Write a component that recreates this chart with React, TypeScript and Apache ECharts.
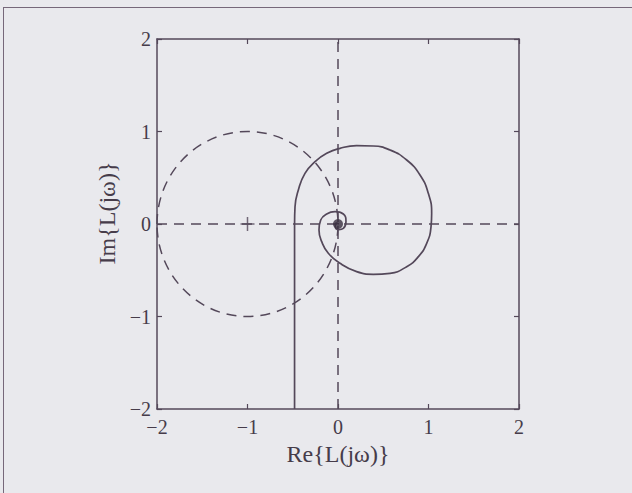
import React, { useEffect, useRef } from "react";
import * as echarts from "echarts";

// Nyquist curve L(jω)
const spiralRe = [
  -0.48, -0.48, -0.48, -0.48, -0.475, -0.438, -0.365, -0.254, -0.125, 0.022, 0.206, 0.39, 0.575, 0.759,
  0.906, 0.998, 1.035, 1.028, 0.98, 0.888, 0.759, 0.575, 0.39, 0.206, 0.022, -0.107, -0.18, -0.21,
  -0.191, -0.125, -0.033, 0.059, 0.088, 0.059, 0.01, -0.03, -0.02, 0.01,
];
const spiralIm = [
  -2.0, -1.0, -0.173, 0.0, 0.187, 0.368, 0.548, 0.674, 0.764, 0.818, 0.847, 0.843, 0.8, 0.692,
  0.53, 0.332, 0.115, -0.029, -0.209, -0.353, -0.461, -0.533, -0.544, -0.515, -0.425, -0.317, -0.191, -0.065,
  0.043, 0.108, 0.133, 0.108, 0.025, -0.047, -0.06, -0.03, 0.01, 0.0,
];

// unit circle around the critical point: [centerRe, centerIm, radius]
const criticalCircle = [-1, 0, 1];
const criticalPoint = [-1, 0];
const origin = [0, 0];

const axisMin = -2;
const axisMax = 2;
const tickStep = 1;

const xName = "Re{L(jω)}";
const yName = "Im{L(jω)}";

const INK = "#54485a";
const TEXT = "#463c4a";
const BG = "#e9e9ed";
const FONT = "'Liberation Serif', 'DejaVu Serif', serif";

const fmt = (v: number) => (v < 0 ? "\u2212" + Math.abs(v) : String(v));

export default function App() {
  const ref = useRef<HTMLDivElement>(null);

  useEffect(() => {
    if (!ref.current) return;
    const chart = echarts.init(ref.current, undefined, { renderer: "svg" });

    const baseAxis = {
      type: "value" as const,
      min: axisMin,
      max: axisMax,
      interval: tickStep,
      axisLine: { show: true, onZero: false, lineStyle: { color: INK, width: 1.5 } },
      axisTick: { show: true, inside: true, length: 5, lineStyle: { color: INK, width: 1.2 } },
      splitLine: { show: false },
    };

    const spiralData = spiralRe.map((x, i) => [x, spiralIm[i]]);

    chart.setOption({
      animation: false,
      backgroundColor: "transparent",
      grid: { left: 157, right: 113, top: 39, bottom: 84 },
      xAxis: [
        {
          ...baseAxis,
          position: "bottom",
          name: xName,
          nameLocation: "middle",
          nameGap: 32,
          nameTextStyle: { fontFamily: FONT, fontSize: 24, color: TEXT },
          axisLabel: { fontFamily: FONT, fontSize: 20, color: TEXT, margin: 8, formatter: fmt },
        },
        {
          ...baseAxis,
          position: "top",
          axisLabel: { show: false },
        },
      ],
      yAxis: [
        {
          ...baseAxis,
          position: "left",
          name: yName,
          nameLocation: "middle",
          nameGap: 35,
          nameRotate: 90,
          nameTextStyle: { fontFamily: FONT, fontSize: 24, color: TEXT, padding: [0, 0, 0, 22] },
          axisLabel: { fontFamily: FONT, fontSize: 20, color: TEXT, margin: 6, formatter: fmt },
        },
        {
          ...baseAxis,
          position: "right",
          axisLabel: { show: false },
        },
      ],
      series: [
        {
          type: "line",
          data: spiralData,
          smooth: 0.5,
          showSymbol: false,
          symbol: "none",
          clip: true,
          lineStyle: { color: INK, width: 1.7 },
          markLine: {
            silent: true,
            symbol: "none",
            label: { show: false },
            lineStyle: { color: INK, width: 1.5, type: [10, 7] },
            data: [{ xAxis: 0 }, { yAxis: 0 }],
          },
          z: 3,
        },
        {
          type: "custom",
          data: [criticalCircle],
          renderItem: (_p: any, api: any) => {
            const c = api.coord([api.value(0), api.value(1)]);
            const s = api.size([api.value(2), api.value(2)]);
            return {
              type: "ellipse",
              shape: { cx: c[0], cy: c[1], rx: s[0], ry: s[1] },
              style: { fill: "none", stroke: INK, lineWidth: 1.5, lineDash: [10, 7] },
            };
          },
          z: 2,
        },
        {
          type: "scatter",
          data: [criticalPoint],
          symbol: "path://M7,0L7,14M0,7L14,7",
          symbolSize: 14,
          itemStyle: { color: "none", borderColor: INK, borderWidth: 1.5 },
          z: 4,
        },
        {
          type: "scatter",
          data: [origin],
          symbol: "circle",
          symbolSize: 10,
          itemStyle: { color: "#3a3040" },
          z: 5,
        },
      ],
    });

    return () => chart.dispose();
  }, []);

  return (
    <div style={{ position: "fixed", left: 0, top: 0, width: 632, height: 493, background: BG, overflow: "hidden" }}>
      <div
        style={{
          position: "absolute",
          left: 3,
          top: 7,
          right: -2,
          bottom: -2,
          borderLeft: "1.5px solid #76687a",
          borderTop: "1.5px solid #76687a",
        }}
      />
      <div ref={ref} style={{ position: "absolute", left: 0, top: 0, width: 632, height: 493 }} />
    </div>
  );
}
